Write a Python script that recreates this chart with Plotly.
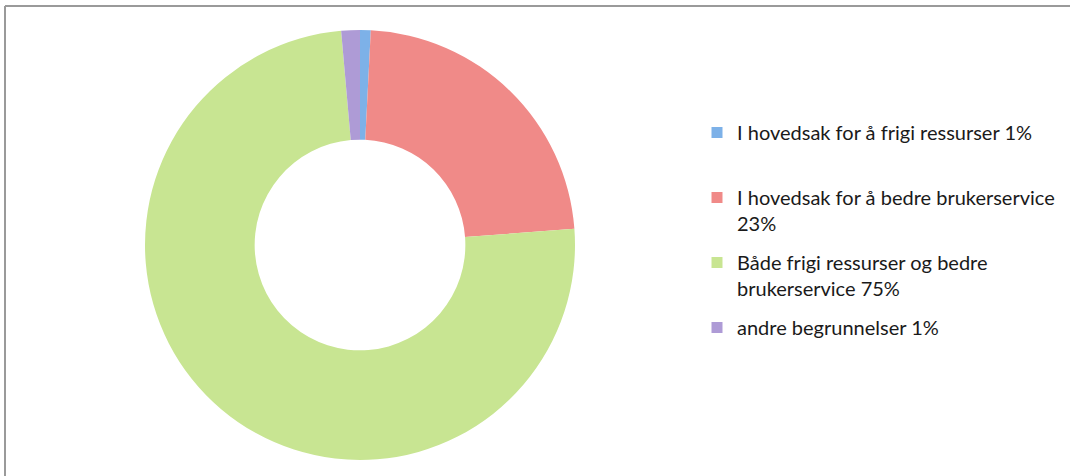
import plotly.graph_objects as go

labels = [
    "I hovedsak for å frigi ressurser 1%",
    "I hovedsak for å bedre brukerservice<br>23%",
    "Både frigi ressurser og bedre<br>brukerservice 75%",
    "andre begrunnelser 1%",
]
legend_text = [
    "I hovedsak for å frigi ressurser 1%<br> ",
    "I hovedsak for å bedre brukerservice<br>23%",
    "Både frigi ressurser og bedre<br>brukerservice 75%",
    "andre begrunnelser 1%",
]
values = [0.8, 23.0, 74.8, 1.4]
colors = ["#7DB1E8", "#F08A88", "#C8E592", "#AE9BD6"]

W, H = 1070, 476
cx, cy, r = 360, 245, 215

fig = go.Figure()
fig.add_trace(go.Pie(
    labels=labels,
    values=values,
    hole=0.49,
    sort=False,
    direction="clockwise",
    rotation=0,
    textinfo="none",
    marker=dict(colors=colors, line=dict(width=0)),
    domain=dict(x=[(cx - r) / W, (cx + r) / W], y=[(H - cy - r) / H, (H - cy + r) / H]),
    hoverinfo="label",
    showlegend=False,
))

# legend entries (one group per category so spacing can be controlled)
for i, (name, col) in enumerate(zip(legend_text, colors)):
    fig.add_trace(go.Scatter(
        x=[None], y=[None], mode="markers", name=name,
        marker=dict(symbol="square", size=11, color=col),
        legendgroup=f"g{i}", showlegend=True, hoverinfo="skip",
    ))

fig.update_layout(
    width=W, height=H,
    margin=dict(l=0, r=0, t=0, b=0),
    paper_bgcolor="white",
    plot_bgcolor="white",
    xaxis=dict(visible=False),
    yaxis=dict(visible=False),
    showlegend=True,
    legend=dict(
        x=697 / W, y=1 - 113 / H, xanchor="left", yanchor="top",
        font=dict(family="Lato, Liberation Sans, sans-serif", size=20, color="#1A1A1A"),
        valign="top",
        itemsizing="trace",
        itemwidth=30,
        tracegroupgap=10,
        bgcolor="rgba(0,0,0,0)",
    ),
    shapes=[
        dict(type="line", xref="paper", yref="paper",
             x0=5 / W, x1=5 / W, y0=0, y1=1 - 6 / H,
             line=dict(color="#9A9A9A", width=2)),
        dict(type="line", xref="paper", yref="paper",
             x0=5 / W, x1=1, y0=1 - 6 / H, y1=1 - 6 / H,
             line=dict(color="#9A9A9A", width=2)),
    ],
)

fig.write_html("out.html")
